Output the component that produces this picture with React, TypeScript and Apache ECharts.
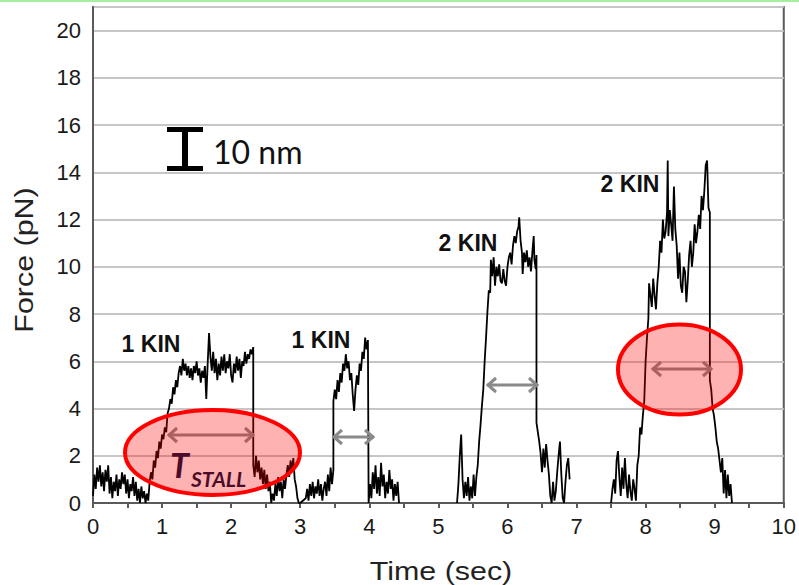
import React, { useEffect, useRef } from "react";
import * as echarts from "echarts";

// Force trace (time in s, force in pN)
const segStall1: [number, number][] = [
  [0.0, 0.3], [0.02, 1.2], [0.04, 0.6], [0.06, 1.5], [0.08, 0.9], [0.1, 1.6], [0.12, 0.7], [0.14, 1.3],
  [0.16, 0.5], [0.18, 1.4], [0.2, 0.9], [0.22, 1.6], [0.24, 0.4], [0.26, 1.1], [0.28, 0.2], [0.3, 0.9],
  [0.32, 0.5], [0.34, 1.2], [0.36, 0.3], [0.38, 1.0], [0.4, 0.6], [0.42, 1.3], [0.44, 0.8], [0.46, 1.2],
  [0.48, 0.4], [0.5, 1.0], [0.52, 0.2], [0.54, 0.8], [0.56, 0.5], [0.58, 1.1], [0.6, 0.3], [0.62, 0.9],
  [0.64, 0.1], [0.66, 0.6], [0.68, 0.0], [0.7, 0.7], [0.72, 0.2], [0.74, 0.5], [0.76, 0.0], [0.78, 0.4],
  [0.8, 0.1], [0.82, 0.9], [0.84, 1.3], [0.86, 1.0], [0.88, 1.8], [0.9, 1.5], [0.92, 2.2], [0.94, 1.9],
  [0.96, 2.6], [0.98, 2.3], [1.0, 2.9], [1.02, 2.7], [1.04, 3.2], [1.06, 3.0], [1.08, 3.8], [1.1, 4.0],
  [1.12, 4.4], [1.14, 4.2], [1.16, 4.9], [1.18, 4.6], [1.2, 5.2], [1.22, 4.9], [1.24, 5.5], [1.26, 5.8],
  [1.28, 5.4], [1.3, 6.1], [1.32, 5.6], [1.34, 5.9], [1.36, 5.4], [1.38, 5.8], [1.4, 5.3], [1.42, 5.7],
  [1.44, 5.2], [1.46, 5.8], [1.48, 5.5], [1.5, 6.0], [1.52, 5.4], [1.54, 5.7], [1.56, 5.1], [1.58, 5.6],
  [1.6, 5.3], [1.62, 5.8], [1.64, 4.4], [1.66, 5.9], [1.68, 7.2], [1.7, 6.2], [1.72, 5.6], [1.74, 6.4],
  [1.76, 5.5], [1.78, 6.1], [1.8, 5.2], [1.82, 5.9], [1.84, 5.4], [1.86, 6.2], [1.88, 5.6], [1.9, 6.3],
  [1.92, 5.5], [1.94, 6.0], [1.96, 5.7], [1.98, 6.3], [2.0, 5.4], [2.02, 5.1], [2.04, 5.9], [2.06, 5.5],
  [2.08, 6.2], [2.1, 5.6], [2.12, 6.1], [2.14, 5.3], [2.16, 6.0], [2.18, 5.8], [2.2, 6.4], [2.22, 5.9],
  [2.24, 6.3], [2.26, 6.1], [2.28, 6.5], [2.3, 6.3], [2.32, 6.6], [2.32, 1.6], [2.34, 1.1], [2.36, 2.0],
  [2.38, 1.3], [2.4, 1.8], [2.42, 1.0], [2.44, 1.5], [2.46, 0.8], [2.48, 1.4], [2.5, 0.6], [2.52, 1.2],
  [2.54, 0.5], [2.56, 0.9], [2.58, 0.0], [2.6, 0.4], [2.62, 0.1], [2.64, 0.8], [2.66, 0.3], [2.68, 1.1],
  [2.7, 0.5], [2.72, 0.9], [2.74, 0.2], [2.76, 1.0], [2.78, 0.6], [2.8, 1.2], [2.82, 1.6], [2.84, 1.1],
  [2.86, 1.8], [2.88, 1.4], [2.9, 1.9], [2.92, 1.0], [2.94, 0.7], [2.96, 0.2], [2.98, 0.0], [3.0, 0.0],
];

const segStall2: [number, number][] = [
  [3.08, 0.2], [3.1, 0.6], [3.12, 0.1], [3.14, 0.8], [3.16, 0.3], [3.18, 0.9], [3.2, 0.2], [3.22, 0.7],
  [3.24, 0.4], [3.26, 1.0], [3.28, 0.3], [3.3, 0.8], [3.32, 0.1], [3.34, 0.6], [3.36, 0.9], [3.38, 0.3],
  [3.4, 1.2], [3.42, 0.5], [3.44, 1.5], [3.46, 0.8], [3.48, 1.4], [3.48, 4.3], [3.5, 4.8], [3.52, 4.4],
  [3.54, 5.2], [3.56, 4.7], [3.58, 5.5], [3.6, 5.1], [3.62, 5.9], [3.64, 5.6], [3.66, 6.3], [3.68, 5.7],
  [3.7, 6.0], [3.72, 5.2], [3.74, 5.5], [3.76, 4.6], [3.78, 3.9], [3.8, 4.8], [3.82, 5.4], [3.84, 5.0],
  [3.86, 5.9], [3.88, 5.6], [3.9, 6.4], [3.92, 6.1], [3.94, 7.0], [3.96, 6.5], [3.98, 6.9], [3.99, 0.0],
  [4.01, 0.8], [4.03, 0.2], [4.05, 1.3], [4.07, 0.6], [4.09, 1.6], [4.11, 0.4], [4.13, 1.1], [4.15, 0.3],
  [4.17, 1.7], [4.19, 0.7], [4.21, 1.2], [4.23, 0.2], [4.25, 0.9], [4.27, 0.4], [4.29, 1.4], [4.31, 0.6],
  [4.33, 1.0], [4.35, 0.1], [4.37, 0.8], [4.39, 0.3], [4.41, 0.9], [4.43, 0.0],
];

const segStall3: [number, number][] = [
  [5.27, 0.0], [5.29, 0.8], [5.31, 2.0], [5.33, 2.9], [5.35, 1.0], [5.37, 0.2], [5.39, 0.9], [5.41, 0.3],
  [5.43, 1.1], [5.45, 0.1], [5.47, 0.7], [5.49, 0.2], [5.51, 1.2], [5.53, 0.3], [5.55, 1.1], [5.57, 1.6],
  [5.59, 2.6], [5.61, 3.3], [5.63, 4.1], [5.65, 4.8], [5.67, 6.0], [5.69, 7.0], [5.71, 8.1], [5.73, 9.0],
  [5.75, 8.9], [5.76, 10.3], [5.78, 9.6], [5.8, 10.4], [5.82, 9.2], [5.84, 10.0], [5.86, 9.6], [5.88, 10.1],
  [5.9, 9.4], [5.92, 9.3], [5.94, 9.9], [5.96, 9.4], [5.98, 9.2], [6.0, 10.0], [6.02, 10.4], [6.04, 10.6],
  [6.06, 10.1], [6.08, 10.9], [6.1, 11.3], [6.12, 11.0], [6.14, 11.5], [6.16, 11.7], [6.17, 12.1], [6.19, 11.1],
  [6.21, 10.6], [6.22, 9.7], [6.24, 10.6], [6.26, 10.2], [6.28, 10.7], [6.3, 10.0], [6.32, 10.4], [6.34, 9.8],
  [6.36, 10.6], [6.38, 11.3], [6.39, 10.3], [6.41, 9.9], [6.42, 10.5], [6.42, 3.4], [6.44, 3.0], [6.46, 2.6],
  [6.48, 2.1], [6.5, 1.3], [6.52, 2.3], [6.54, 1.5], [6.56, 2.5], [6.58, 1.8], [6.6, 1.2], [6.62, 0.3],
  [6.64, 0.0], [6.66, 0.9], [6.68, 0.1], [6.7, 0.5], [6.72, 1.3], [6.74, 2.0], [6.76, 2.6], [6.78, 1.2],
  [6.8, 0.2], [6.82, 0.0], [6.84, 0.9], [6.86, 1.6], [6.88, 1.9], [6.9, 1.0],
];

const segStall4: [number, number][] = [
  [7.5, 0.0], [7.52, 0.6], [7.54, 1.0], [7.56, 0.4], [7.58, 1.8], [7.6, 2.2], [7.62, 1.1], [7.64, 0.3],
  [7.66, 1.5], [7.68, 0.6], [7.7, 1.9], [7.72, 0.8], [7.74, 0.2], [7.76, 1.2], [7.78, 0.5], [7.8, 0.1],
  [7.82, 1.0], [7.84, 0.6], [7.86, 0.1], [7.88, 1.6], [7.9, 2.0], [7.92, 3.2], [7.94, 2.9], [7.96, 3.7],
  [7.98, 4.3], [8.0, 6.0], [8.02, 7.0], [8.04, 7.8], [8.05, 9.3], [8.07, 8.8], [8.09, 8.3], [8.11, 9.5],
  [8.13, 8.8], [8.15, 8.2], [8.17, 9.3], [8.19, 10.0], [8.21, 11.1], [8.23, 10.6], [8.25, 12.0], [8.27, 11.2],
  [8.29, 11.5], [8.31, 12.3], [8.32, 14.5], [8.33, 11.3], [8.35, 12.4], [8.37, 11.8], [8.39, 11.1], [8.41, 13.4],
  [8.43, 11.6], [8.45, 10.9], [8.47, 9.5], [8.49, 10.6], [8.51, 9.2], [8.53, 8.9], [8.55, 10.0], [8.57, 9.8],
  [8.59, 8.5], [8.61, 9.4], [8.63, 10.5], [8.65, 11.1], [8.67, 10.0], [8.69, 10.6], [8.71, 11.8], [8.73, 11.0],
  [8.75, 11.5], [8.77, 12.2], [8.79, 11.6], [8.81, 13.0], [8.83, 12.4], [8.85, 13.2], [8.87, 14.3], [8.89, 14.5],
  [8.91, 12.5], [8.93, 12.3], [8.93, 5.2], [8.95, 4.8], [8.97, 4.0], [8.99, 3.7], [9.01, 3.2], [9.03, 2.6],
  [9.05, 2.3], [9.07, 1.8], [9.09, 1.3], [9.11, 1.9], [9.13, 0.4], [9.15, 1.4], [9.17, 0.2], [9.19, 1.2],
  [9.21, 0.3], [9.23, 0.8], [9.25, 0.0],
];

const xMin = 0;
const xMax = 10;
const yMin = 0;
const yMax = 21;
const yTickTop = 20;

const kinLabels = ["1 KIN", "1 KIN", "2 KIN", "2 KIN"];

const FONT = "'Liberation Sans', Arial, sans-serif";

export default function App() {
  const ref = useRef<HTMLDivElement>(null);

  useEffect(() => {
    if (!ref.current) return;
    const chart = echarts.init(ref.current, undefined, { renderer: "svg" });

    const trace: any[] = [
      ...segStall1,
      ...segStall2,
      [4.8, "-"],
      ...segStall3,
      [7.2, "-"],
      ...segStall4,
    ];

    const arrowColor = "#8a8a8a";
    const arrow = (x1: number, x2: number, y: number) => [
      { type: "line", z: 10, shape: { x1, y1: y, x2, y2: y }, style: { stroke: arrowColor, lineWidth: 3 } },
      {
        type: "polyline", z: 10,
        shape: { points: [[x1 + 9, y - 7], [x1 + 1, y], [x1 + 9, y + 7]] },
        style: { stroke: arrowColor, lineWidth: 3, fill: null },
      },
      {
        type: "polyline", z: 10,
        shape: { points: [[x2 - 9, y - 7], [x2 - 1, y], [x2 - 9, y + 7]] },
        style: { stroke: arrowColor, lineWidth: 3, fill: null },
      },
    ];

    const kinPos = [
      [151, 344],
      [321, 340],
      [468, 243],
      [630, 184],
    ];

    const graphics: any[] = [
      { type: "rect", z: 50, shape: { x: 0, y: 0, width: 799, height: 2 }, style: { fill: "#a4f0a0" } },
      ...arrow(168, 254, 435),
      ...arrow(333, 374, 437),
      ...arrow(487, 538, 385),
      ...arrow(652, 712, 369),
      {
        type: "ellipse", z: 20,
        shape: { cx: 212.5, cy: 452.5, rx: 87.5, ry: 42.5 },
        style: { fill: "rgba(255,0,0,0.3)", stroke: "#ff0000", lineWidth: 4 },
      },
      {
        type: "ellipse", z: 20,
        shape: { cx: 679.5, cy: 369.5, rx: 61.5, ry: 45 },
        style: { fill: "rgba(255,0,0,0.3)", stroke: "#ff0000", lineWidth: 4 },
      },
      {
        type: "text", z: 30, x: 170, y: 464,
        style: { text: "T", font: "italic bold 34px Lato", fill: "#4a0c28", align: "left", verticalAlign: "middle" },
      },
      {
        type: "text", z: 30, x: 191, y: 478,
        style: { text: "STALL", font: "italic bold 21px Lato", fill: "#4a0c28", align: "left", verticalAlign: "middle" },
      },
      // scale bar
      { type: "rect", z: 30, shape: { x: 167, y: 127, width: 36, height: 5 }, style: { fill: "#000" } },
      { type: "rect", z: 30, shape: { x: 167, y: 166, width: 36, height: 5 }, style: { fill: "#000" } },
      { type: "rect", z: 30, shape: { x: 182, y: 127, width: 6, height: 44 }, style: { fill: "#000" } },
      {
        type: "text", z: 30, x: 213, y: 151,
        style: { text: "10 nm", font: "32px Lato", fill: "#111", align: "left", verticalAlign: "middle" },
      },
      ...kinLabels.map((t, i) => ({
        type: "text", z: 30, x: kinPos[i][0], y: kinPos[i][1],
        style: { text: t, font: `bold 23px ${FONT}`, fill: "#111", align: "center", verticalAlign: "middle" },
      })),
      {
        type: "text", z: 30, x: 441, y: 571, scaleX: 1.17,
        style: { text: "Time (sec)", font: `26px ${FONT}`, fill: "#222", align: "center", verticalAlign: "middle" },
      },
      {
        type: "text", z: 30, x: 24, y: 260, rotation: Math.PI / 2, scaleX: 1.17,
        style: { text: "Force (pN)", font: `26px ${FONT}`, fill: "#222", align: "center", verticalAlign: "middle" },
      },
    ];

    chart.setOption({
      animation: false,
      backgroundColor: "#ffffff",
      grid: {
        left: 93, right: 9, top: 7, bottom: 82,
        show: true, borderColor: "#5a5a5a", borderWidth: 2, backgroundColor: "transparent",
      },
      xAxis: {
        type: "value", min: xMin, max: xMax, interval: 1,
        axisLine: { show: true, lineStyle: { color: "#5a5a5a", width: 2 } },
        axisTick: { show: true, length: 5, lineStyle: { color: "#5a5a5a", width: 2 } },
        minorTick: { show: true, splitNumber: 2, length: 5, lineStyle: { color: "#5a5a5a", width: 2 } },
        splitLine: { show: false },
        axisLabel: { fontFamily: FONT, fontSize: 22, color: "#1a1a1a", margin: 12 },
      },
      yAxis: {
        type: "value", min: yMin, max: yMax, interval: 2,
        axisLine: { show: true, lineStyle: { color: "#5a5a5a", width: 2 } },
        axisTick: { show: false },
        splitLine: { show: true, lineStyle: { color: "#c6c6c6", width: 2 } },
        axisLabel: {
          fontFamily: FONT, fontSize: 22, color: "#1a1a1a", margin: 12,
          formatter: (v: number) => (v > yTickTop ? "" : String(v)),
        },
      },
      series: [
        {
          type: "line",
          data: trace,
          showSymbol: false,
          connectNulls: false,
          lineStyle: { color: "#000", width: 1.8 },
          z: 3,
        },
      ],
      graphic: graphics,
    });

    return () => chart.dispose();
  }, []);

  return (
    <div
      ref={ref}
      style={{ position: "fixed", left: 0, top: 0, width: 799, height: 585, background: "#fff" }}
    />
  );
}
